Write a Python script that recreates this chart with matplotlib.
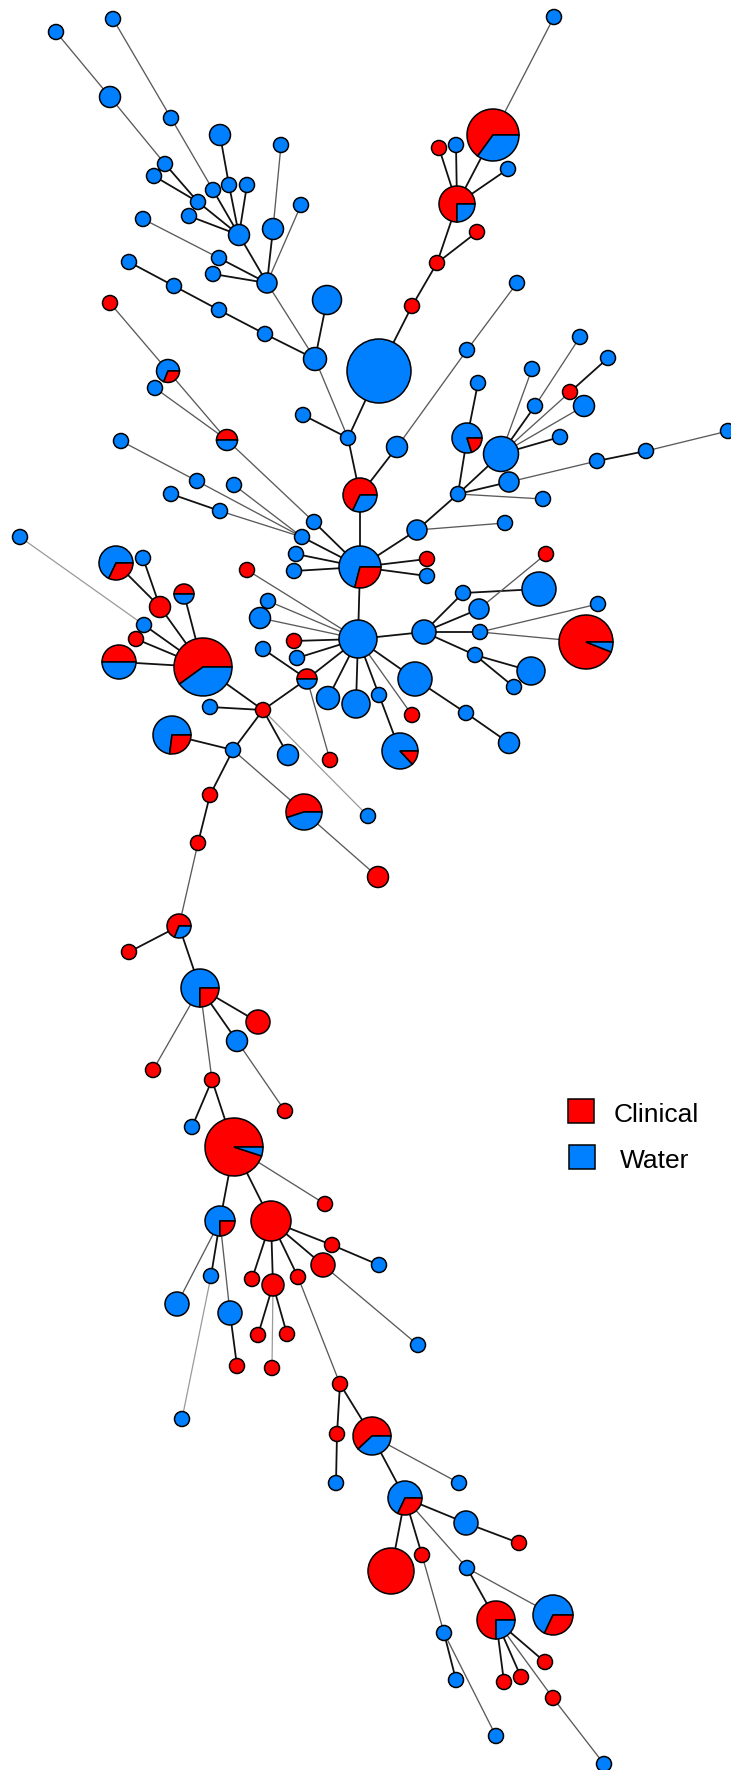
#!/usr/bin/env python3
"""
Minimum spanning tree of isolates, nodes drawn as pies (clinical vs water).
"""

import matplotlib.pyplot as plt
from matplotlib.patches import Circle, Wedge, Rectangle

RED = '#ff0000'
BLUE = '#0080ff'

# ============================================================
# NODES (layout in pixel space, radius, share of clinical isolates)
# ============================================================

node_x = [56, 113, 110, 171, 220, 281, 165, 154, 213, 229, 247, 198, 189, 143, 239, 273, 301, 219, 213, 129,
          267, 174, 219, 265, 315, 327, 379, 110, 168, 155, 227, 121, 303, 348, 197, 234, 171, 220, 314, 302,
          296, 294, 360, 360, 247, 268, 260, 358, 294, 297, 263, 307, 263, 328, 356, 379, 415, 412, 466, 424,
          427, 427, 417, 20, 116, 143, 160, 184, 144, 136, 119, 203, 210, 172, 233, 288, 330, 304, 210, 198,
          368, 378, 400, 509, 554, 493, 439, 456, 508, 457, 477, 437, 412, 517, 467, 397, 580, 608, 532, 478,
          570, 535, 584, 467, 501, 560, 646, 728, 597, 509, 458, 543, 505, 546, 539, 463, 598, 479, 480, 586,
          475, 531, 514, 179, 129, 200, 258, 237, 153, 212, 285, 192, 234, 325, 220, 271, 332, 323, 252, 273,
          298, 211, 177, 230, 258, 287, 237, 272, 182, 379, 418, 340, 337, 336, 372, 459, 405, 466, 519, 391,
          422, 467, 496, 553, 444, 545, 521, 504, 456, 553, 496, 604]

node_y = [32, 19, 97, 118, 135, 145, 164, 176, 190, 185, 185, 202, 216, 219, 235, 229, 205, 258, 274, 262,
          283, 286, 310, 334, 359, 300, 371, 303, 371, 388, 440, 441, 415, 438, 481, 485, 494, 511, 522, 537,
          554, 571, 495, 567, 570, 601, 618, 639, 641, 658, 649, 679, 710, 698, 704, 695, 679, 715, 713, 632,
          559, 576, 530, 537, 563, 558, 607, 594, 625, 639, 662, 667, 707, 735, 750, 755, 760, 812, 795, 843,
          816, 877, 751, 743, 17, 135, 148, 145, 169, 204, 232, 263, 306, 283, 350, 447, 337, 358, 369, 383,
          392, 406, 406, 438, 454, 437, 451, 431, 461, 482, 494, 499, 523, 554, 589, 593, 604, 609, 632, 642,
          655, 671, 687, 926, 952, 988, 1022, 1041, 1070, 1080, 1111, 1127, 1147, 1204, 1221, 1221, 1245, 1265, 1279, 1285,
          1277, 1276, 1304, 1313, 1335, 1334, 1366, 1368, 1419, 1265, 1345, 1384, 1434, 1483, 1436, 1483, 1498, 1523, 1543, 1571,
          1555, 1568, 1620, 1615, 1633, 1662, 1677, 1682, 1680, 1698, 1736, 1764]

node_r = [7.5, 7.5, 10.5, 7.5, 10.5, 7.5, 7.5, 7.5, 7.5, 7.5, 7.5, 7.5, 7.5, 7.5, 10.5, 10.5, 7.5, 7.5, 7.5, 7.5,
          10, 7.5, 7.5, 7.5, 11.5, 14.5, 32, 7.5, 11.5, 7.5, 10.5, 7.5, 7.5, 7.5, 7.5, 7.5, 7.5, 7.5, 7.5, 7.5,
          7.5, 7.5, 17, 21, 7.5, 7.5, 10.5, 19, 7.5, 7.5, 7.5, 10, 7.5, 11.5, 14, 7.5, 17, 7.5, 7.5, 12,
          7.5, 7.5, 10, 7.5, 17, 7.5, 10.5, 10, 7.5, 7.5, 17, 29, 7.5, 19, 7.5, 10.5, 7.5, 18, 7.5, 7.5,
          7.5, 10.5, 18, 10.5, 7.5, 26, 7.5, 7.5, 7.5, 18, 7.5, 7.5, 7.5, 7.5, 7.5, 10.5, 7.5, 7.5, 7.5, 7.5,
          7.5, 7.5, 10.5, 15, 17.5, 7.5, 7.5, 7.5, 7.5, 10, 7.5, 7.5, 7.5, 7.5, 17, 7.5, 7.5, 10, 7.5, 27,
          7.5, 14, 7.5, 12, 7.5, 19, 12, 10.5, 7.5, 7.5, 7.5, 7.5, 29, 7.5, 15, 20, 7.5, 12, 7.5, 11,
          7.5, 7.5, 12, 12, 7.5, 7.5, 7.5, 7.5, 7.5, 7.5, 7.5, 7.5, 7.5, 7.5, 19, 7.5, 17, 12, 7.5, 23,
          7.5, 7.5, 19, 20, 7.5, 7.5, 7.5, 7.5, 7.5, 7.5, 7.5, 7.5]

clinical = [0, 0, 0, 0, 0, 0, 0, 0, 0, 0, 0, 0, 0, 0, 0, 0, 0, 0, 0, 0,
            0, 0, 0, 0, 0, 0, 0, 1, 0.31, 0, 0.5, 0, 0, 0, 0, 0, 0, 0, 0, 0,
            0, 0, 0.68, 0.29, 1, 0, 0, 0, 1, 0, 0, 0.5, 1, 0, 0, 0, 0, 1, 0, 0,
            1, 0, 0, 0, 0.32, 0, 1, 0.5, 0, 1, 0.5, 0.6, 0, 0.27, 0, 0, 1, 0.55, 1, 1,
            0, 1, 0.13, 0, 0, 0.65, 1, 0, 0, 0.75, 1, 1, 1, 0, 0, 0, 0, 0, 0, 0,
            1, 0, 0, 0.2, 0, 0, 0, 0, 0, 0, 0, 0, 0, 1, 0, 0, 0, 0, 0, 0.94,
            0, 0, 0, 0.69, 1, 0.25, 1, 0, 1, 1, 1, 0, 0.95, 1, 0.25, 1, 1, 1, 1, 1,
            1, 0, 0, 0, 1, 1, 1, 1, 0, 0, 0, 1, 1, 0, 0.62, 0, 0.32, 0, 1, 1,
            1, 0, 0.75, 0.32, 0, 1, 1, 1, 0, 1, 0, 0]

# ============================================================
# TREE EDGES (node a, node b, line style: k=short, g=longer, l=longest)
# ============================================================

edges = [
    (0, 2, 'g'), (2, 6, 'g'), (1, 3, 'g'), (3, 8, 'g'), (6, 11, 'k'), (7, 11, 'k'), (11, 14, 'k'),
    (8, 14, 'k'), (9, 14, 'k'), (10, 14, 'k'), (12, 14, 'k'), (4, 9, 'k'), (14, 20, 'k'), (15, 20, 'k'),
    (5, 15, 'g'), (16, 20, 'g'), (13, 17, 'g'), (17, 20, 'k'), (18, 20, 'k'), (19, 21, 'k'), (21, 22, 'k'),
    (22, 23, 'k'), (23, 24, 'k'), (24, 25, 'k'), (20, 24, 'g'), (24, 33, 'g'), (26, 33, 'k'), (32, 33, 'k'),
    (33, 42, 'k'),
    (27, 28, 'g'), (28, 30, 'g'), (29, 30, 'g'), (30, 38, 'g'), (31, 34, 'g'), (34, 39, 'g'), (36, 37, 'k'),
    (37, 39, 'g'), (35, 39, 'g'),
    (38, 43, 'k'), (39, 43, 'k'), (40, 43, 'k'), (41, 43, 'k'), (42, 43, 'k'), (43, 60, 'k'), (43, 61, 'k'),
    (43, 62, 'k'), (43, 47, 'k'),
    (44, 47, 'g'), (45, 47, 'g'), (46, 47, 'g'), (47, 48, 'k'), (47, 49, 'k'), (47, 53, 'k'), (47, 54, 'k'),
    (47, 55, 'k'), (47, 57, 'g'), (47, 56, 'k'), (47, 59, 'k'),
    (50, 51, 'k'), (51, 47, 'k'), (51, 52, 'k'), (51, 76, 'g'), (55, 82, 'k'), (56, 58, 'k'), (58, 83, 'k'),
    (59, 115, 'k'), (59, 117, 'k'), (59, 118, 'k'), (59, 120, 'k'), (115, 114, 'k'), (117, 113, 'g'),
    (118, 116, 'g'), (118, 119, 'g'), (120, 121, 'k'), (120, 122, 'k'),
    (63, 68, 'l'), (68, 71, 'k'), (69, 71, 'k'), (70, 71, 'k'), (66, 71, 'k'), (67, 71, 'k'), (64, 66, 'k'),
    (65, 66, 'k'), (71, 52, 'k'), (72, 52, 'k'), (52, 74, 'k'), (52, 75, 'k'), (52, 80, 'l'), (74, 73, 'k'),
    (74, 78, 'k'), (74, 77, 'g'), (77, 81, 'g'), (78, 79, 'k'), (79, 123, 'g'),
    (84, 85, 'g'), (86, 89, 'k'), (87, 89, 'k'), (85, 89, 'k'), (88, 89, 'k'), (89, 91, 'k'), (90, 91, 'k'),
    (91, 92, 'k'), (92, 26, 'k'), (93, 94, 'g'), (94, 95, 'g'), (95, 42, 'k'), (99, 103, 'k'), (103, 110, 'k'),
    (104, 110, 'k'), (104, 98, 'g'), (104, 101, 'k'), (101, 96, 'g'), (104, 100, 'g'), (100, 97, 'k'),
    (104, 102, 'g'), (104, 105, 'k'), (110, 109, 'k'), (109, 108, 'g'), (108, 106, 'k'), (106, 107, 'g'),
    (110, 111, 'g'), (110, 62, 'k'), (62, 112, 'g'),
    (123, 124, 'k'), (123, 125, 'k'), (125, 126, 'k'), (125, 127, 'k'), (125, 128, 'g'), (125, 129, 'g'),
    (127, 130, 'g'), (129, 131, 'k'), (129, 132, 'k'), (132, 133, 'g'), (132, 134, 'k'), (132, 135, 'k'),
    (134, 141, 'k'), (134, 142, 'g'), (134, 143, 'g'), (141, 148, 'l'), (143, 146, 'k'), (135, 138, 'k'),
    (135, 139, 'k'), (135, 140, 'k'), (135, 137, 'k'), (135, 136, 'k'), (136, 149, 'k'), (137, 150, 'g'),
    (139, 144, 'k'), (139, 145, 'k'), (139, 147, 'l'), (140, 151, 'g'), (151, 152, 'k'), (152, 153, 'k'),
    (151, 154, 'k'), (154, 155, 'g'), (154, 156, 'k'), (156, 157, 'k'), (157, 158, 'k'), (156, 159, 'k'),
    (156, 160, 'k'), (156, 161, 'g'), (160, 164, 'g'), (164, 168, 'k'), (164, 170, 'g'), (161, 162, 'k'),
    (161, 163, 'g'), (162, 165, 'k'), (162, 166, 'k'), (162, 167, 'k'), (162, 169, 'g'), (169, 171, 'g'),
]

legend_labels = ['Clinical', 'Water']
legend_colors = [RED, BLUE]

# ============================================================
# DRAW
# ============================================================

fig = plt.figure(figsize=(7.31, 17.70), dpi=100)
ax = fig.add_axes([0, 0, 1, 1])
ax.set_xlim(0, 731)
ax.set_ylim(1770, 0)
ax.axis('off')

edge_style = {'k': ('#111111', 1.3), 'g': ('#5a5a5a', 0.95), 'l': ('#9a9a9a', 0.9)}
for a, b, kind in edges:
    col, lw = edge_style[kind]
    ax.plot([node_x[a], node_x[b]], [node_y[a], node_y[b]], color=col, lw=lw,
            solid_capstyle='butt', zorder=1)

for x, y, r, f in zip(node_x, node_y, node_r, clinical):
    if f <= 0 or f >= 1:
        ax.add_patch(Circle((x, y), r, facecolor=RED if f >= 1 else BLUE,
                            edgecolor='black', lw=1.1, zorder=2))
        continue
    # larger share first, counter-clockwise from 3 o'clock
    slices = [(f, RED), (1 - f, BLUE)]
    if 1 - f > f:
        slices.reverse()
    start = 0.0
    for frac, col in slices:
        end = start + 360 * frac
        # y axis is inverted, so flip the angles to keep screen CCW
        ax.add_patch(Wedge((x, y), r, -end, -start, facecolor=col,
                           edgecolor='black', lw=1.1, zorder=2))
        start = end

# legend
for i, (lab, col) in enumerate(zip(legend_labels, legend_colors)):
    ax.add_patch(Rectangle((568 + i, 1099 + 46 * i), 26, 24, facecolor=col,
                           edgecolor='black', lw=1.1, zorder=3))
    ax.text(614 + 6 * i, 1122 + 46 * i, lab, fontsize=19, family='Liberation Sans',
            va='baseline', ha='left', color='black')

plt.savefig('out.png', dpi=100, facecolor='white')
